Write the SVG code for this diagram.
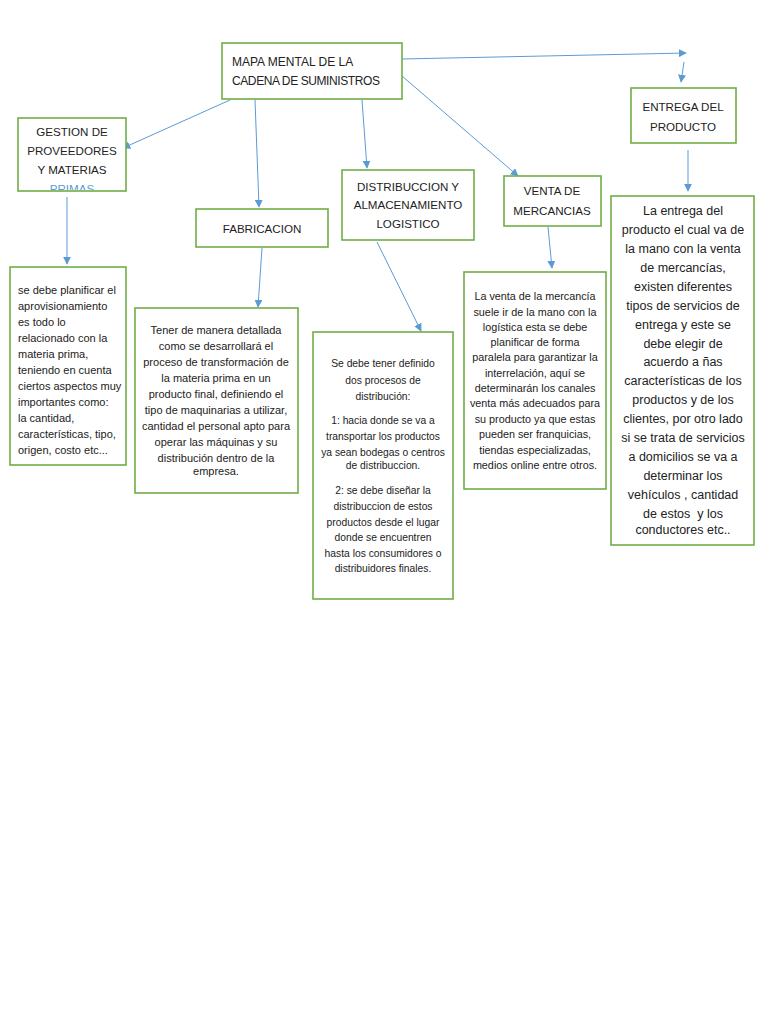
<svg xmlns="http://www.w3.org/2000/svg" width="768" height="1024" viewBox="0 0 768 1024">
<style>
.box{fill:#fff;stroke:#70AD47;stroke-width:1.6}
.t{font-family:"Liberation Sans",Arial,sans-serif;fill:#222}
.h{font-size:11.6px}
.e{font-size:12.5px}
.s{font-size:11px}
.v{font-size:10.8px}
.d{font-size:10.3px}
.m{text-anchor:middle}
.c{fill:none;stroke:#5B9BD5;stroke-width:1;marker-end:url(#ah)}
</style>
<defs>
<marker id="ah" viewBox="0 0 10 10" refX="9" refY="5" markerWidth="8" markerHeight="8" markerUnits="userSpaceOnUse" orient="auto">
<path d="M0,0 L10,5 L0,10 z" fill="#5B9BD5"/>
</marker>
<clipPath id="gclip"><rect x="18" y="118" width="108" height="72"/></clipPath>
</defs>
<rect width="768" height="1024" fill="#fff"/>
<g id="connectors">
<path class="c" d="M402,59 L686,53"/>
<path class="c" d="M684,62 L681,82"/>
<path class="c" d="M230,100 L123,148"/>
<path class="c" d="M255,100 L259,207"/>
<path class="c" d="M362,100 L367,168"/>
<path class="c" d="M402,76 L518,176"/>
<path class="c" d="M67,197 L67,264"/>
<path class="c" d="M262,248 L258,307"/>
<path class="c" d="M377,242 L421,331"/>
<path class="c" d="M548,227 L552,268"/>
<path class="c" d="M688,150 L688,191"/>
</g>
<g id="main">
<rect class="box" x="222" y="43" width="180" height="56"/>
<text class="t" style="font-size:12px" x="232" y="66">MAPA MENTAL DE LA</text>
<text class="t" style="font-size:12px" x="232" y="85" textLength="148">CADENA DE SUMINISTROS</text>
</g>
<g id="gestion">
<rect class="box" x="18" y="118" width="108" height="73"/>
<g clip-path="url(#gclip)">
<text class="t h m" x="72" y="136">GESTION DE</text>
<text class="t h m" x="72" y="155">PROVEEDORES</text>
<text class="t h m" x="72" y="174">Y MATERIAS</text>
<text class="t h m" x="72" y="193" style="fill:#5B9BD5">PRIMAS</text>
</g>
</g>
<g id="fabricacion">
<rect class="box" x="196" y="209" width="132" height="38"/>
<text class="t h m" x="262" y="233">FABRICACION</text>
</g>
<g id="distribucion">
<rect class="box" x="342" y="170" width="132" height="70"/>
<text class="t h m" x="408" y="191">DISTRIBUCCION Y</text>
<text class="t h m" x="408" y="209">ALMACENAMIENTO</text>
<text class="t h m" x="408" y="228">LOGISTICO</text>
</g>
<g id="venta">
<rect class="box" x="504" y="176" width="97" height="50"/>
<text class="t h m" x="552" y="195">VENTA DE</text>
<text class="t h m" x="552" y="215">MERCANCIAS</text>
</g>
<g id="entrega">
<rect class="box" x="631" y="88" width="105" height="55"/>
<text class="t h m" x="683" y="111">ENTREGA DEL</text>
<text class="t h m" x="683" y="131">PRODUCTO</text>
</g>
<g id="gestion-text">
<rect class="box" x="10" y="267" width="116" height="198"/>
<g class="t s">
<text x="18" y="294">se debe planificar el</text>
<text x="18" y="310">aprovisionamiento</text>
<text x="18" y="326">es todo lo</text>
<text x="18" y="342">relacionado con la</text>
<text x="18" y="358">materia prima,</text>
<text x="18" y="374">teniendo en cuenta</text>
<text x="18" y="390">ciertos aspectos muy</text>
<text x="18" y="406">importantes como:</text>
<text x="18" y="422">la cantidad,</text>
<text x="18" y="438">características, tipo,</text>
<text x="18" y="454">origen, costo etc...</text>
</g>
</g>
<g id="fabricacion-text">
<rect class="box" x="135" y="308" width="163" height="185"/>
<g class="t s m">
<text x="216" y="334">Tener de manera detallada</text>
<text x="216" y="350">como se desarrollará el</text>
<text x="216" y="366">proceso de transformación de</text>
<text x="216" y="382">la materia prima en un</text>
<text x="216" y="398">producto final, definiendo el</text>
<text x="216" y="414">tipo de maquinarias a utilizar,</text>
<text x="216" y="430">cantidad el personal apto para</text>
<text x="216" y="446">operar las máquinas y su</text>
<text x="216" y="462">distribución dentro de la</text>
<text x="216" y="475">empresa.</text>
</g>
</g>
<g id="distribucion-text">
<rect class="box" x="313" y="332" width="140" height="267"/>
<g class="t d m">
<text x="383" y="367">Se debe tener definido</text>
<text x="383" y="384">dos procesos de</text>
<text x="383" y="400">distribución:</text>
<text x="383" y="424">1: hacia donde se va a</text>
<text x="383" y="440">transportar los productos</text>
<text x="383" y="456">ya sean bodegas o centros</text>
<text x="383" y="469">de distribuccion.</text>
<text x="383" y="494">2: se debe diseñar la</text>
<text x="383" y="510">distribuccion de estos</text>
<text x="383" y="526">productos desde el lugar</text>
<text x="383" y="541">donde se encuentren</text>
<text x="383" y="557">hasta los consumidores o</text>
<text x="383" y="572">distribuidores finales.</text>
</g>
</g>
<g id="venta-text">
<rect class="box" x="464" y="272" width="142" height="217"/>
<g class="t v m">
<text x="535" y="300">La venta de la mercancía</text>
<text x="535" y="316">suele ir de la mano con la</text>
<text x="535" y="331">logística esta se debe</text>
<text x="535" y="346">planificar de forma</text>
<text x="535" y="361">paralela para garantizar la</text>
<text x="535" y="377">interrelación, aquí se</text>
<text x="535" y="392">determinarán los canales</text>
<text x="535" y="407">venta más adecuados para</text>
<text x="535" y="423">su producto ya que estas</text>
<text x="535" y="438">pueden ser franquicias,</text>
<text x="535" y="454">tiendas especializadas,</text>
<text x="535" y="469">medios online entre otros.</text>
</g>
</g>
<g id="entrega-text">
<rect class="box" x="611" y="196" width="143" height="349"/>
<g class="t e m">
<text x="683" y="215">La entrega del</text>
<text x="683" y="234">producto el cual va de</text>
<text x="683" y="253">la mano con la venta</text>
<text x="683" y="272">de mercancías,</text>
<text x="683" y="291">existen diferentes</text>
<text x="683" y="310">tipos de servicios de</text>
<text x="683" y="329">entrega y este se</text>
<text x="683" y="348">debe elegir de</text>
<text x="683" y="366">acuerdo a ñas</text>
<text x="683" y="385">características de los</text>
<text x="683" y="404">productos y de los</text>
<text x="683" y="423">clientes, por otro lado</text>
<text x="683" y="442">si se trata de servicios</text>
<text x="683" y="461">a domicilios se va a</text>
<text x="683" y="480">determinar los</text>
<text x="683" y="499">vehículos , cantidad</text>
<text x="683" y="518" xml:space="preserve">de estos  y los</text>
<text x="683" y="534">conductores etc..</text>
</g>
</g>
</svg>
